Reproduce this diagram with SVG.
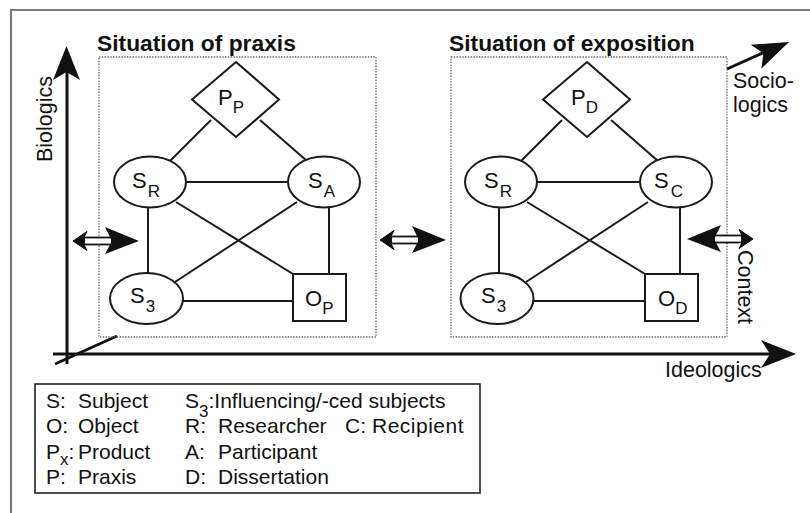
<svg xmlns="http://www.w3.org/2000/svg" xmlns:xlink="http://www.w3.org/1999/xlink" width="810" height="513" viewBox="0 0 810 513">
  <style>
    text { font-family: "Liberation Sans", Arial, Helvetica, sans-serif; fill: #111; }
    .lbl { font-size: 22px; }
    .sub { font-size: 17px; }
    .title { font-size: 22.8px; font-weight: bold; }
    .axl { font-size: 21.5px; }
    .leg { font-size: 21px; }
    .node { fill: #fff; stroke: #1a1a1a; stroke-width: 2; }
    .edge { stroke: #1a1a1a; stroke-width: 2; fill: none; }
    .axis { stroke: #111; stroke-width: 3; fill: none; }
    .head { fill: #111; stroke: none; }
    .situ { fill: none; stroke: #666; stroke-width: 1.3; stroke-dasharray: 1.4 1.4; }
    .frame { fill: none; stroke: #7a7a7a; stroke-width: 2.2; }
  </style>
  <defs>
    <!-- exchange arrow: thin hollow arrow to the left, heavy arrowhead to the right -->
    <g id="dbl">
      <rect x="-22" y="-3.5" width="28" height="7" fill="#fff" stroke="#111" stroke-width="1.8"/>
      <polygon points="-33,0 -19,-9.5 -22,-3.5 -22,3.5 -19,9.5" fill="#111" stroke="#111" stroke-width="1"/>
      <polygon points="33,0 -1,-14 6,0 -1,13" fill="#111"/>
    </g>
  </defs>

  <rect width="810" height="513" fill="#fff"/>
  <!-- outer frame (open on the right and bottom) -->
  <polyline class="frame" points="11,513 11,10 810,10"/>

  <!-- axes -->
  <g id="axes">
    <line class="axis" x1="67" y1="364" x2="67" y2="72"/>
    <polygon class="head" points="66.5,46 80,80 66.5,72 53,80"/>
    <line class="axis" x1="53" y1="354" x2="772" y2="354"/>
    <polygon class="head" points="796,354 761,340 770,354 761,368"/>
    <line class="axis" stroke-width="2.6" x1="55" y1="364" x2="117" y2="336"/>
    <line class="axis" stroke-width="2.6" x1="727" y1="69" x2="765" y2="52"/>
    <polygon class="head" points="789,42 761.4,68.5 763.4,53.3 750.7,44.7"/>
    <text class="axl" transform="translate(52,162) rotate(-90)" font-size="22">Biologics</text>
    <text class="axl" x="665" y="377">Ideologics</text>
    <text class="axl" x="733" y="88">Socio-</text>
    <text class="axl" x="733" y="112">logics</text>
    <text class="axl" transform="translate(738,250) rotate(90)">Context</text>
  </g>

  <!-- situations -->
  <rect class="situ" x="99" y="57" width="277" height="280"/>
  <rect class="situ" x="451" y="57" width="276" height="280"/>
  <text class="title" x="97" y="51">Situation of praxis</text>
  <text class="title" x="449" y="51">Situation of exposition</text>

  <!-- connectors -->
  <g id="connectors">
    <!-- praxis -->
    <line class="edge" x1="211" y1="120" x2="170" y2="161"/>
    <line class="edge" x1="260" y1="120" x2="307" y2="161"/>
    <line class="edge" x1="186" y1="182" x2="288" y2="182"/>
    <line class="edge" x1="148" y1="207" x2="148" y2="273"/>
    <line class="edge" x1="329" y1="207" x2="329" y2="274"/>
    <line class="edge" x1="176" y1="202" x2="293" y2="274"/>
    <line class="edge" x1="297" y1="202" x2="175" y2="282"/>
    <line class="edge" x1="183" y1="301" x2="293" y2="301"/>
    <!-- exposition -->
    <line class="edge" x1="562" y1="120" x2="521" y2="161"/>
    <line class="edge" x1="611" y1="120" x2="658" y2="161"/>
    <line class="edge" x1="537" y1="182" x2="640" y2="182"/>
    <line class="edge" x1="499" y1="207" x2="499" y2="273"/>
    <line class="edge" x1="680" y1="207" x2="680" y2="274"/>
    <line class="edge" x1="527" y1="202" x2="645" y2="274"/>
    <line class="edge" x1="648" y1="202" x2="526" y2="282"/>
    <line class="edge" x1="533" y1="301" x2="645" y2="301"/>
    <!-- exchange arrows -->
    <use xlink:href="#dbl" href="#dbl" transform="translate(106,241)"/>
    <use xlink:href="#dbl" href="#dbl" transform="translate(413,240)"/>
    <use xlink:href="#dbl" href="#dbl" transform="translate(720,239) scale(-1,1)"/>
  </g>

  <!-- nodes: praxis -->
  <g id="pp">
    <polygon class="node" points="236,62 279,99.5 236,137 192,99.5"/>
    <text class="lbl" x="218" y="105">P<tspan class="sub" dy="8">P</tspan></text>
  </g>
  <g id="sr1">
    <ellipse class="node" cx="150" cy="182" rx="36" ry="25.5"/>
    <text class="lbl" x="132" y="188">S<tspan class="sub" dx="1" dy="9">R</tspan></text>
  </g>
  <g id="sa">
    <ellipse class="node" cx="324" cy="182" rx="36" ry="25.5"/>
    <text class="lbl" x="308" y="188">S<tspan class="sub" dx="1" dy="9">A</tspan></text>
  </g>
  <g id="s31">
    <ellipse class="node" cx="146.5" cy="298.5" rx="36.5" ry="25.5"/>
    <text class="lbl" x="130" y="303">S<tspan class="sub" dx="1" dy="9">3</tspan></text>
  </g>
  <g id="op">
    <rect class="node" x="293" y="274" width="53" height="47"/>
    <text class="lbl" x="305" y="306">O<tspan class="sub" dy="8">P</tspan></text>
  </g>

  <!-- nodes: exposition -->
  <g id="pd">
    <polygon class="node" points="587,62 630,99.5 587,137 543,99.5"/>
    <text class="lbl" x="571" y="105">P<tspan class="sub" dy="8">D</tspan></text>
  </g>
  <g id="sr2">
    <ellipse class="node" cx="501" cy="182" rx="36" ry="25.5"/>
    <text class="lbl" x="484" y="188">S<tspan class="sub" dx="1" dy="9">R</tspan></text>
  </g>
  <g id="sc">
    <ellipse class="node" cx="676" cy="182" rx="36" ry="25.5"/>
    <text class="lbl" x="654" y="188">S<tspan class="sub" dx="2" dy="9">C</tspan></text>
  </g>
  <g id="s32">
    <ellipse class="node" cx="497" cy="298.5" rx="36.5" ry="25.5"/>
    <text class="lbl" x="481" y="303">S<tspan class="sub" dx="1" dy="9">3</tspan></text>
  </g>
  <g id="od">
    <rect class="node" x="645" y="274" width="53" height="47"/>
    <text class="lbl" x="658" y="306">O<tspan class="sub" dy="8">D</tspan></text>
  </g>

  <!-- legend -->
  <g id="legend">
    <rect x="35" y="384" width="445" height="109" fill="#fff" stroke="#222" stroke-width="1.6"/>
    <text class="leg" y="408"><tspan x="46">S:</tspan><tspan x="78">Subject</tspan></text>
    <text class="leg" y="408"><tspan x="185">S</tspan><tspan class="sub" dy="9">3</tspan><tspan dy="-9">:Influencing/-ced subjects</tspan></text>

    <text class="leg" y="433"><tspan x="46">O:</tspan><tspan x="78">Object</tspan></text>
    <text class="leg" y="433"><tspan x="185">R:</tspan><tspan x="218">Researcher</tspan><tspan x="345">C:</tspan><tspan x="372" letter-spacing="0.5">Recipient</tspan></text>

    <text class="leg" y="459"><tspan x="46">P</tspan><tspan class="sub" dy="6">x</tspan><tspan dy="-6">:</tspan><tspan x="78">Product</tspan></text>
    <text class="leg" y="459"><tspan x="185">A:</tspan><tspan x="218">Participant</tspan></text>

    <text class="leg" y="484"><tspan x="46">P:</tspan><tspan x="78">Praxis</tspan></text>
    <text class="leg" y="484"><tspan x="185">D:</tspan><tspan x="218">Dissertation</tspan></text>
  </g>
</svg>
